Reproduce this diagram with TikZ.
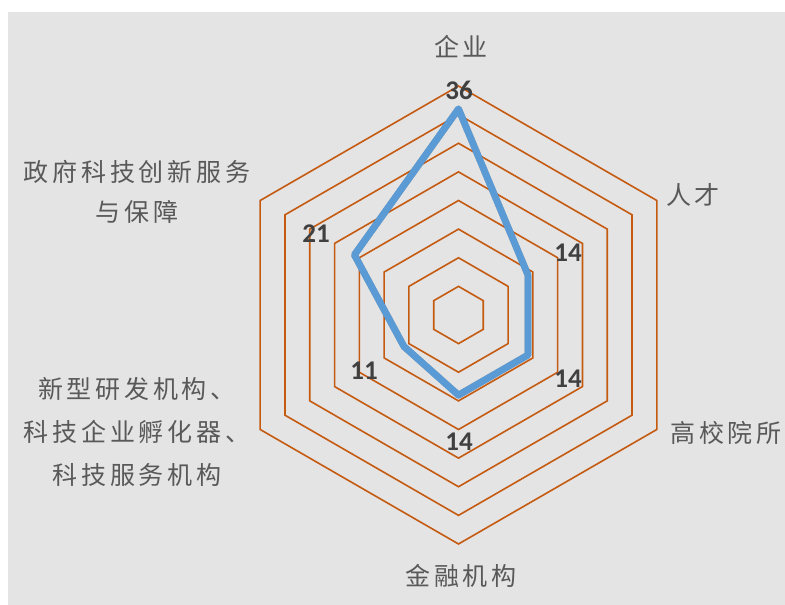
\documentclass[tikz,border=0pt]{standalone}
\usepackage{fontspec}
\newfontfamily\cjk{Noto Sans CJK SC}[LetterSpace=15]
\newfontfamily\numfont{Carlito}
\definecolor{bg}{HTML}{E4E4E4}
\definecolor{ringcol}{HTML}{C55A11}
\definecolor{seriescol}{HTML}{5B9BD5}
\definecolor{catcol}{HTML}{595959}
\definecolor{valcol}{HTML}{404040}
\begin{document}
\begin{tikzpicture}[x=1pt,y=1pt,
  catlabel/.style={font=\cjk\fontsize{25}{40}\selectfont, text=catcol, inner sep=0pt, align=center},
  catlabelb/.style={font=\cjk\fontsize{25}{43}\selectfont, text=catcol, inner sep=0pt, align=center},
  vallabel/.style={font=\numfont\bfseries\fontsize{27}{27}\selectfont, text=valcol, inner sep=0pt},
  ringline/.style={draw=ringcol, line width=1.6pt},
  serieline/.style={draw=seriescol, line width=6.8pt, line join=round},
  shadowline/.style={draw=black, opacity=0.3, line width=6.8pt, line join=round}]
\useasboundingbox (0,0) rectangle (785,605);
\fill[white] (0,0) rectangle (785,605);
\fill[bg] (8,0) rectangle (785,593);
\begin{scope}[shift={(458.5,290)}]
  \foreach \k in {1,...,8}{
    \pgfmathsetmacro{\r}{\k*28.625}
    \draw[ringline] (90:\r) -- (30:\r) -- (-30:\r) -- (-90:\r) -- (-150:\r) -- (150:\r) -- cycle;
  }
  \coordinate (p1) at (90:206.1);
  \coordinate (p2) at (30:80.15);
  \coordinate (p3) at (-30:80.15);
  \coordinate (p4) at (-90:80.15);
  \coordinate (p5) at (-150:62.975);
  \coordinate (p6) at (150:120.2);
  \draw[shadowline, shift={(1.2,-1.6)}] (p1) -- (p2) -- (p3) -- (p4) -- (p5) -- (p6) -- cycle;
  \draw[serieline] (p1) -- (p2) -- (p3) -- (p4) -- (p5) -- (p6) -- cycle;
\end{scope}
\node[vallabel] (v1) at (459,515) {36};
\node[vallabel] (v2) at (568,352) {14};
\node[vallabel] (v3) at (568,226) {14};
\node[vallabel] (v4) at (459,163) {14};
\node[vallabel] (v5) at (364,234) {11};
\node[vallabel] (v6) at (316,371.5) {21};
\node[catlabel] (c1) at (461,558) {企业};
\node[catlabel] (c2) at (693,410) {人才};
\node[catlabel] (c3) at (726,172) {高校院所};
\node[catlabel] (c4) at (461,29) {金融机构};
\node[catlabelb] (c5) at (137,173) {新型研发机构、\\科技企业孵化器、\\科技服务机构};
\node[catlabel] (c6) at (137,413) {政府科技创新服务\\与保障};
\end{tikzpicture}
\end{document}
